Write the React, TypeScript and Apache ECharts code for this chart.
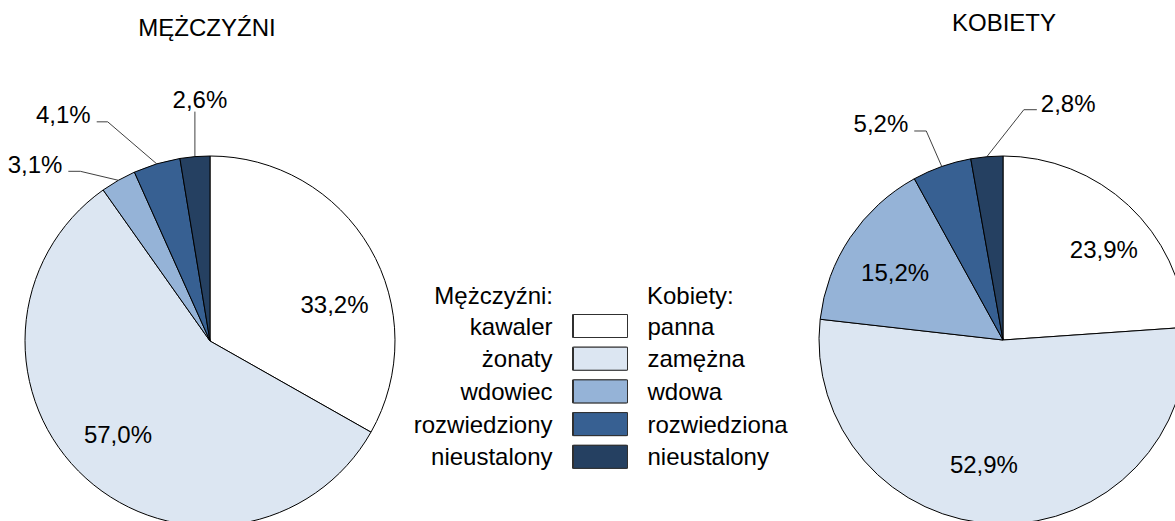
import React, { useEffect, useRef } from 'react';
import * as echarts from 'echarts';

const menCategories = ['kawaler', 'żonaty', 'wdowiec', 'rozwiedziony', 'nieustalony'];
const womenCategories = ['panna', 'zamężna', 'wdowa', 'rozwiedziona', 'nieustalony'];
const menValues = [33.2, 57.0, 3.1, 4.1, 2.6];
const womenValues = [23.9, 52.9, 15.2, 5.2, 2.8];
const titles = ['MĘŻCZYŹNI', 'KOBIETY'];
const legendHeaders = ['Mężczyźni:', 'Kobiety:'];

const sliceColors = ['#ffffff', '#dce6f2', '#95b3d7', '#376092', '#254061'];
const FONT = 'Liberation Sans, Arial, sans-serif';
const FS = 24;

type Place = { inside?: [number, number]; elbow?: [number, number]; run?: number };
const menPlacement: Place[] = [
  { inside: [42, 12] },
  { inside: [-28, 23] },
  { elbow: [-38, -9], run: -12 },
  { elbow: [-49, -42], run: -11 },
  { elbow: [0, -45], run: 0 },
];
const womenPlacement: Place[] = [
  { inside: [36, -21] },
  { inside: [-17, 30] },
  { inside: [-29, -15] },
  { elbow: [-15.5, -35.5], run: -12 },
  { elbow: [37, -47], run: 13 },
];

const fmt = (p: any) => Number(p.value).toFixed(1).replace('.', ',') + '%';

const makeLayout = (places: Place[]) => (p: any) => {
  const pl = places[p.dataIndex];
  if (!pl) return {};
  if (pl.inside) {
    const r = p.labelRect;
    return {
      x: r.x + r.width / 2 + pl.inside[0],
      y: r.y + r.height / 2 + pl.inside[1],
      align: 'center',
      verticalAlign: 'middle',
    };
  }
  const pts = p.labelLinePoints;
  if (!pts || !pl.elbow) return {};
  const p0 = pts[0];
  const e1 = [p0[0] + pl.elbow[0], p0[1] + pl.elbow[1]];
  const run = pl.run || 0;
  const e2 = [e1[0] + run, e1[1]];
  let x: number, y: number, align: string;
  if (run < 0) {
    x = e2[0] - 6; y = e2[1] - 7; align = 'right';
  } else if (run > 0) {
    x = e2[0] + 4; y = e2[1] - 6; align = 'left';
  } else {
    x = e2[0] + 5; y = e2[1] - 12; align = 'center';
  }
  return { x, y, align, verticalAlign: 'middle', labelLinePoints: [p0, e1, e2] };
};

const buildSeries = (name: string, cats: string[], vals: number[], center: number[], radius: number, places: Place[]) => ({
  type: 'pie',
  name,
  center,
  radius,
  startAngle: 90,
  clockwise: true,
  avoidLabelOverlap: false,
  silent: true,
  emphasis: { disabled: true },
  itemStyle: { borderColor: '#000', borderWidth: 1 },
  label: { show: true, formatter: fmt, fontSize: FS, fontFamily: FONT, color: '#000' },
  labelLine: { show: true, length: 10, length2: 10, lineStyle: { color: '#404040', width: 1 } },
  labelLayout: makeLayout(places),
  data: cats.map((c, i) => ({
    name: c,
    value: vals[i],
    itemStyle: { color: sliceColors[i] },
    label: { position: places[i].inside ? 'inside' : 'outside' },
    labelLine: { show: !places[i].inside },
  })),
});

const textEl = (text: string, x: number, y: number, align: string) => ({
  type: 'text',
  x,
  y,
  silent: true,
  style: { text, fill: '#000', fontSize: FS, fontFamily: FONT, align, verticalAlign: 'middle', textAlign: align, textVerticalAlign: 'middle' },
});

const legendBase = {
  orient: 'vertical',
  selectedMode: false,
  padding: 0,
  itemWidth: 54,
  itemHeight: 23,
  itemGap: 8.7,
  icon: 'rect',
  itemStyle: { borderColor: '#303030', borderWidth: 1 },
  top: 314,
};

const option: any = {
  animation: false,
  backgroundColor: '#fff',
  legend: [
    {
      ...legendBase,
      align: 'right',
      right: 548,
      data: menCategories,
      textStyle: { fontSize: FS, fontFamily: FONT, color: '#000', padding: [0, 15, 0, 0] },
    },
    {
      ...legendBase,
      align: 'left',
      left: 573,
      data: womenCategories,
      textStyle: { fontSize: FS, fontFamily: FONT, color: '#000', padding: [0, 0, 0, 15] },
    },
  ],
  graphic: [
    textEl(titles[0], 207, 27, 'center'),
    textEl(titles[1], 1004, 22, 'center'),
    textEl(legendHeaders[0], 553, 295, 'right'),
    textEl(legendHeaders[1], 647, 295, 'left'),
  ],
  series: [
    buildSeries('Mężczyźni', menCategories, menValues, [210, 341], 185, menPlacement),
    buildSeries('Kobiety', womenCategories, womenValues, [1003, 340], 184, womenPlacement),
  ],
};

export default function App() {
  const ref = useRef<HTMLDivElement>(null);
  useEffect(() => {
    if (!ref.current) return;
    const chart = echarts.init(ref.current, null, { renderer: 'svg' });
    chart.setOption(option);
    return () => chart.dispose();
  }, []);
  return (
    <div
      ref={ref}
      style={{ position: 'fixed', left: 0, top: 0, width: 1175, height: 521, background: '#fff' }}
    />
  );
}
